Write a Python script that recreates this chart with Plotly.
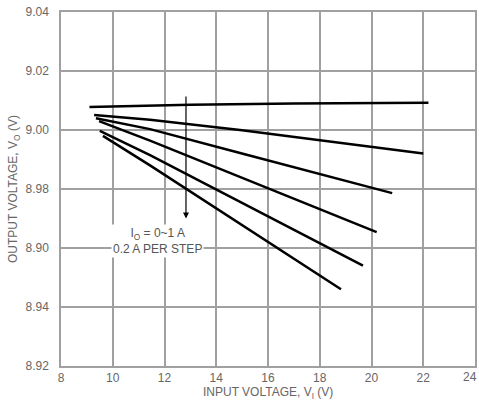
import plotly.graph_objects as go

# Series: output voltage vs input voltage, Io = 0 .. 1 A in 0.2 A steps
series_x = [
    [9.1, 13.0, 17.0, 22.2],
    [9.28, 11.44, 14.92, 22.0],
    [9.35, 11.44, 14.92, 20.8],
    [9.47, 11.44, 20.2],
    [9.5, 11.44, 19.67],
    [9.62, 11.44, 18.82],
]
series_y = [
    [9.0078, 9.0086, 9.0090, 9.0092],
    [9.0051, 9.0035, 9.0000, 8.9920],
    [9.0040, 9.0003, 8.9922, 8.9786],
    [9.0030, 8.9964, 8.9654],
    [8.9997, 8.9915, 8.9540],
    [8.9980, 8.9880, 8.9460],
]

y_tickvals = [8.92, 8.94, 8.96, 8.98, 9.00, 9.02, 9.04]
y_ticktext = ["8.92", "8.94", "8.90", "8.98", "9.00", "9.02", "9.04"]
x_tickvals = [8, 10, 12, 14, 16, 18, 20, 22]
x_last_tick = 24

arrow_x = 12.83
arrow_y = [9.0119, 8.9700]
label_x = 11.71
label_y = 8.9624
label_text = "I<sub>O</sub> = 0~1 A<br>0.2 A PER STEP"

x_title = "INPUT VOLTAGE, V<sub>I</sub> (V)"
y_title = "OUTPUT VOLTAGE, V<sub>O</sub> (V)"

fig = go.Figure()
for xs, ys in zip(series_x, series_y):
    fig.add_trace(go.Scatter(x=xs, y=ys, mode="lines",
                             line=dict(color="black", width=2.5),
                             showlegend=False, hoverinfo="skip"))

# arrow
fig.add_annotation(x=arrow_x, y=arrow_y[1], ax=arrow_x, ay=arrow_y[0],
                   xref="x", yref="y", axref="x", ayref="y",
                   showarrow=True, arrowhead=2, arrowsize=1, arrowwidth=1.2,
                   arrowcolor="black", text="")
fig.add_annotation(x=label_x, y=label_y, xref="x", yref="y", text=label_text,
                   showarrow=False, bgcolor="white",
                   font=dict(family="Liberation Sans, Arial", size=12, color="#555"))

axis_font = dict(family="Liberation Sans, Arial", size=12, color="#666")

# last x tick label, kept just inside the page edge
fig.add_annotation(x=x_last_tick, y=0, xref="x", yref="paper", text=str(x_last_tick),
                   showarrow=False, font=axis_font, xanchor="right", yanchor="top",
                   xshift=4, yshift=-2)

# axis titles as paper annotations (precise placement)
fig.add_annotation(x=(14 - 61) / 414, y=0.5, xref="paper", yref="paper",
                   text=y_title, textangle=-90, showarrow=False, font=axis_font,
                   xanchor="center", yanchor="middle")
fig.add_annotation(x=0.5, y=-(393 - 366) / 354, xref="paper", yref="paper",
                   text=x_title, showarrow=False, font=axis_font,
                   xanchor="center", yanchor="middle")

fig.update_layout(
    width=479, height=404,
    margin=dict(l=61, r=4, t=12, b=38, autoexpand=False),
    paper_bgcolor="white", plot_bgcolor="white",
    font=axis_font,
    xaxis=dict(range=[8, 24], tickvals=x_tickvals + [x_last_tick],
               ticktext=[str(v) for v in x_tickvals] + [""], showgrid=True,
               gridcolor="#a0a0a0", gridwidth=1.5, showline=True,
               linecolor="#a0a0a0", linewidth=1.5, mirror=True, zeroline=False,
               tickfont=axis_font, automargin=False),
    yaxis=dict(range=[8.92, 9.04], tickvals=y_tickvals, ticktext=y_ticktext,
               showgrid=True, gridcolor="#a0a0a0", gridwidth=1.5, showline=True,
               linecolor="#a0a0a0", linewidth=1.5, mirror=True, zeroline=False,
               tickfont=axis_font, ticklabelstandoff=8, automargin=False),
)

fig.write_html("out.html", config={"displayModeBar": False},
               post_script="document.body.style.margin='0';document.body.style.overflow='hidden';")
